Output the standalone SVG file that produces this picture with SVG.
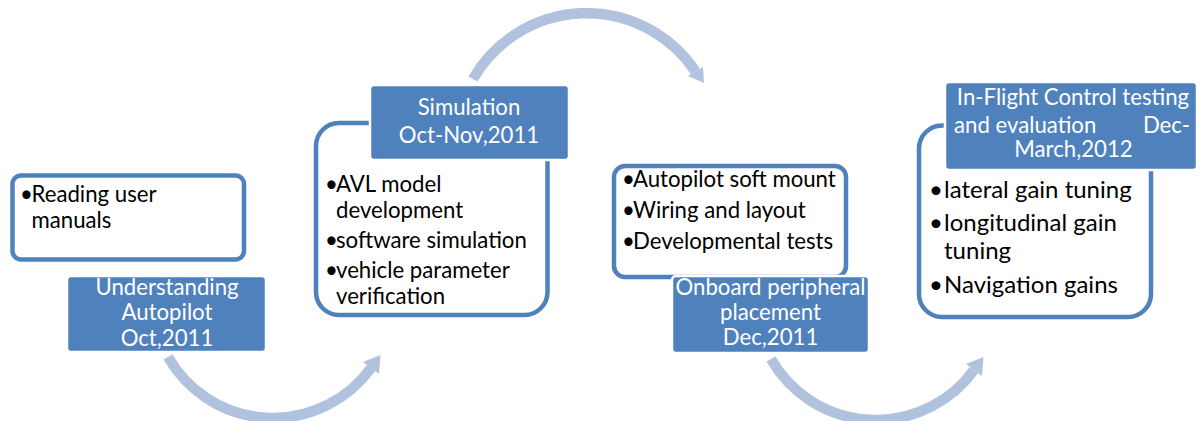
<svg xmlns="http://www.w3.org/2000/svg" width="1200" height="421" viewBox="0 0 1200 421">
  <style>
    .box { fill: #ffffff; stroke: #4f81bd; stroke-width: 4.5; }
    .lbl { fill: #4f81bd; stroke: #ffffff; stroke-width: 2.5; }
    .lt { font-family: Lato, "Open Sans", sans-serif; font-size: 22.2px; fill: #ffffff; text-anchor: middle; }
    .bt { font-family: Lato, "Open Sans", sans-serif; font-size: 22.2px; fill: #000000; }
    .bt4 { font-family: Lato, "Open Sans", sans-serif; font-size: 24px; fill: #000000; }
    .shaft { fill: none; stroke: #b0c2de; stroke-width: 10.5; stroke-linecap: butt; }
    .head { fill: #b0c2de; }
  </style>

  <g id="connectors">
    <g id="arrow1">
      <path class="shaft" d="M 168 357 A 121 121 0 0 0 371 368"/>
      <polygon class="head" points="380.5,355 379,374 363,362"/>
    </g>
    <g id="arrow2">
      <path class="shaft" d="M 473 79 A 131 131 0 0 1 695.5 71.5"/>
      <polygon class="head" points="704,83 688,76 703,67"/>
    </g>
    <g id="arrow3" transform="translate(603,2)">
      <path class="shaft" d="M 168 357 A 121 121 0 0 0 371 368"/>
      <polygon class="head" points="380.5,355 379,374 363,362"/>
    </g>
  </g>

  <g id="node1">
    <rect class="box" x="12.5" y="175.5" width="231.5" height="84" rx="8.5"/>
    <text class="bt" x="20" y="202">•</text>
    <text class="bt" x="31.5" y="202">Reading user</text>
    <text class="bt" x="31.5" y="228">manuals</text>
    <rect class="lbl" x="67" y="276" width="199" height="76" rx="4"/>
    <text class="lt" x="167" y="295">Understanding</text>
    <text class="lt" x="167" y="320">Autopilot</text>
    <text class="lt" x="167" y="346">Oct,2011</text>
  </g>

  <g id="node2">
    <rect class="box" x="316" y="123" width="231.5" height="192" rx="23"/>
    <text class="bt" x="325" y="192">•</text>
    <text class="bt" x="336" y="192">AVL model</text>
    <text class="bt" x="336" y="218">development</text>
    <text class="bt" x="325" y="248">•</text>
    <text class="bt" x="336" y="248">software simulation</text>
    <text class="bt" x="325" y="278">•</text>
    <text class="bt" x="336" y="278">vehicle parameter</text>
    <text class="bt" x="336" y="304">verification</text>
    <rect class="lbl" x="370" y="85" width="199" height="75" rx="4"/>
    <text class="lt" x="469" y="115">Simulation</text>
    <text class="lt" x="469" y="143">Oct-Nov,2011</text>
  </g>

  <g id="node3">
    <rect class="box" x="614" y="166" width="232" height="111" rx="11"/>
    <text class="bt" x="622" y="187">•</text>
    <text class="bt" x="633" y="187">Autopilot soft mount</text>
    <text class="bt" x="622" y="218">•</text>
    <text class="bt" x="633" y="218">Wiring and layout</text>
    <text class="bt" x="622" y="249">•</text>
    <text class="bt" x="633" y="249">Developmental tests</text>
    <rect class="lbl" x="672" y="276" width="197" height="77" rx="4"/>
    <text class="lt" x="770.5" y="295">Onboard peripheral</text>
    <text class="lt" x="770.5" y="320">placement</text>
    <text class="lt" x="770.5" y="345">Dec,2011</text>
  </g>

  <g id="node4">
    <rect class="box" x="919" y="125.5" width="232" height="191.5" rx="23"/>
    <text class="bt4" x="929" y="198">•</text>
    <text class="bt4" x="944" y="198">lateral gain tuning</text>
    <text class="bt4" x="929" y="231">•</text>
    <text class="bt4" x="944" y="231">longitudinal gain</text>
    <text class="bt4" x="944" y="259">tuning</text>
    <text class="bt4" x="929" y="293">•</text>
    <text class="bt4" x="944" y="293">Navigation gains</text>
    <rect class="lbl" x="945" y="82" width="252" height="88" rx="4"/>
    <text class="lt" x="1073" y="105">In-Flight Control testing</text>
    <text class="lt" x="954" y="133" style="text-anchor:start">and evaluation</text>
    <text class="lt" x="1190" y="133" style="text-anchor:end">Dec-</text>
    <text class="lt" x="1073.5" y="157">March,2012</text>
  </g>
</svg>
